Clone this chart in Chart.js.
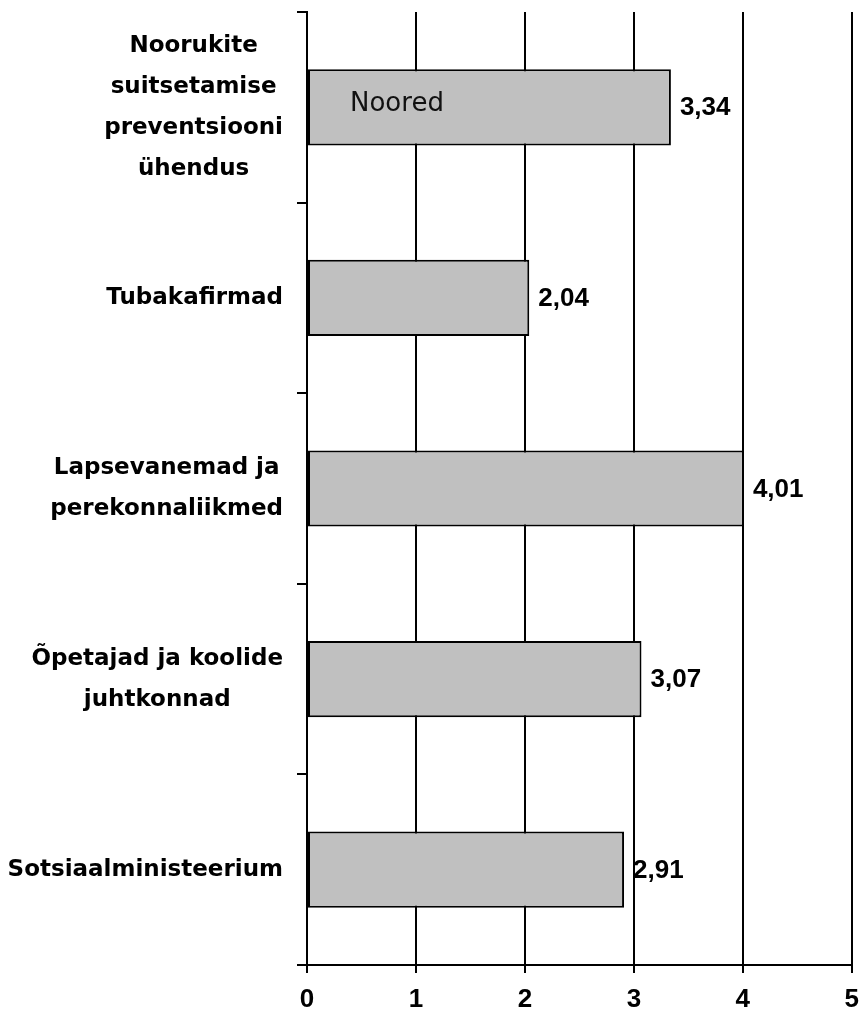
<!DOCTYPE html>
<html lang="et">

<head>
    <meta charset="UTF-8">
    <title>Hinnangud - Noored</title>
    <script src="https://cdn.jsdelivr.net/npm/chart.js"></script>
    <style>
        html,
        body {
            margin: 0;
            padding: 0;
            background: #fff;
        }

        #chart-container {
            width: 862px;
            height: 1025px;
        }
    </style>
</head>

<body>
    <div id="chart-container">
        <canvas id="hinnangChart"></canvas>
    </div>

    <script>
        // Data
        var categories = [
            ['Noorukite', 'suitsetamise', 'preventsiooni', 'ühendus'],
            ['Tubakafirmad'],
            ['Lapsevanemad ja', 'perekonnaliikmed'],
            ['Õpetajad ja koolide', 'juhtkonnad'],
            ['Sotsiaalministeerium']
        ];
        var nooredValues = [3.34, 2.04, 4.01, 3.07, 2.91];
        var seriesName = 'Noored';
        var xMin = 0;
        var xMax = 5;

        var labelFont = 'bold 23px "DejaVu Sans"';
        var numberFont = 'bold 26px "Liberation Sans"';

        // category labels: lines centred inside a block, block right aligned
        var categoryLabels = {
            id: 'categoryLabels',
            afterDraw: function (chart) {
                var ctx = chart.ctx;
                var yScale = chart.scales.y;
                var right = chart.chartArea.left - 24;
                ctx.save();
                ctx.font = labelFont;
                ctx.fillStyle = '#000';
                ctx.textAlign = 'center';
                ctx.textBaseline = 'middle';
                categories.forEach(function (lines, i) {
                    var maxW = 0;
                    lines.forEach(function (l) { maxW = Math.max(maxW, ctx.measureText(l).width); });
                    var cx = right - maxW / 2;
                    var cy = yScale.getPixelForValue(i);
                    lines.forEach(function (l, j) {
                        ctx.fillText(l, cx, cy + (j - (lines.length - 1) / 2) * 41);
                    });
                });
                ctx.restore();
            }
        };

        // value labels at bar ends plus the series name inside the first bar
        var valueLabels = {
            id: 'valueLabels',
            afterDatasetsDraw: function (chart) {
                var ctx = chart.ctx;
                var meta = chart.getDatasetMeta(0);
                ctx.save();
                ctx.fillStyle = '#000';
                ctx.textBaseline = 'middle';
                ctx.textAlign = 'left';
                ctx.font = numberFont;
                meta.data.forEach(function (bar, i) {
                    ctx.fillText(nooredValues[i].toFixed(2).replace('.', ','), bar.x + 9, bar.y + 1);
                });
                ctx.font = '26px "DejaVu Sans"';
                ctx.fillStyle = '#111';
                ctx.fillText(seriesName, chart.chartArea.left + 43, meta.data[0].y - 3);
                ctx.restore();
            }
        };

        var ctx = document.getElementById('hinnangChart').getContext('2d');
        var hinnangChart = new Chart(ctx, {
            type: 'bar',
            data: {
                labels: categories,
                datasets: [{
                    label: seriesName,
                    data: nooredValues,
                    backgroundColor: '#c0c0c0',
                    borderColor: '#000',
                    borderWidth: 2,
                    borderSkipped: false,
                    categoryPercentage: 1,
                    barPercentage: 0.4
                }]
            },
            options: {
                indexAxis: 'y',
                responsive: true,
                maintainAspectRatio: false,
                animation: false,
                layout: {
                    padding: { top: 12, right: 9, left: 0, bottom: 0 }
                },
                plugins: {
                    legend: { display: false },
                    tooltip: { enabled: false }
                },
                scales: {
                    x: {
                        min: xMin,
                        max: xMax,
                        ticks: {
                            stepSize: 1,
                            color: '#000',
                            font: { family: 'Liberation Sans', size: 26, weight: 'bold', lineHeight: 1.85 },
                            padding: 3
                        },
                        grid: {
                            color: '#000',
                            lineWidth: 2,
                            tickLength: 8
                        },
                        border: { color: '#000', width: 2 },
                        afterFit: function (scale) { scale.height = 60; }
                    },
                    y: {
                        ticks: { display: false },
                        grid: {
                            offset: true,
                            drawOnChartArea: false,
                            color: '#000',
                            lineWidth: 2,
                            tickLength: 10
                        },
                        border: { color: '#000', width: 2 },
                        afterFit: function (scale) { scale.width = 307; }
                    }
                }
            },
            plugins: [categoryLabels, valueLabels]
        });
    </script>
</body>

</html>
